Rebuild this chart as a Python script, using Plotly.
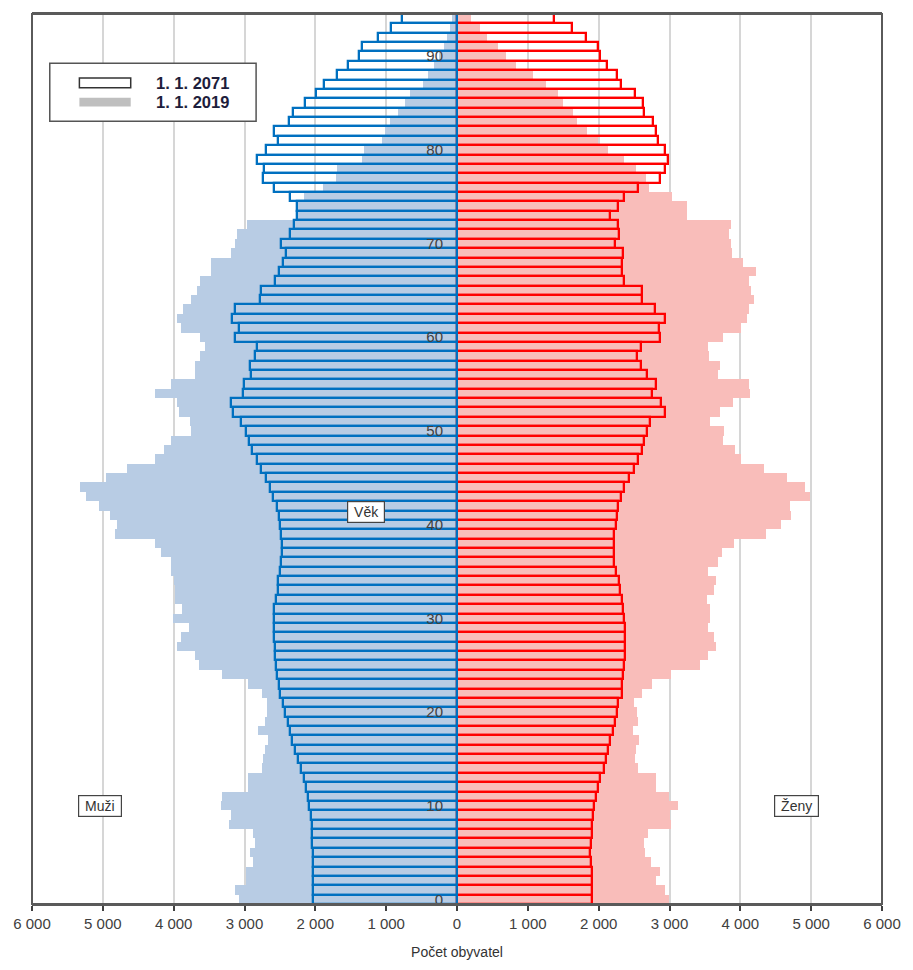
import plotly.graph_objects as go

ages = list(range(0, 95))

# Muži 1. 1. 2019 (ages 0..94)
men_2019 = [3073, 3129, 2981, 2981, 2874, 2920, 2856, 2874, 3222, 3190,
            3338, 3315, 2948, 2948, 2748, 2739, 2711, 2669, 2804, 2711,
            2688, 2688, 2748, 2948, 3315, 3640, 3692, 3957, 3896, 3784,
            4003, 3887, 3979, 3979, 3993, 4040, 4040, 4180, 4268, 4829,
            4801, 4895, 5058, 5234, 5327, 4955, 4653, 4268, 4142, 4040,
            3756, 3770, 3919, 3957, 4268, 4040, 3692, 3692, 3631, 3552,
            3631, 3896, 3957, 3873, 3756, 3668, 3631, 3469, 3469, 3190,
            3134, 3106, 2967, 2255, 2250, 2167, 1889, 1703, 1694, 1341,
            1309, 1052, 1016, 940, 830, 728, 658, 481, 403, 328,
            255, 184, 142, 95, 77]

# Muži 1. 1. 2071
men_2071 = [2038, 2038, 2038, 2038, 2038, 2038, 2042, 2052, 2052, 2066,
            2084, 2107, 2131, 2159, 2205, 2247, 2293, 2330, 2362, 2390,
            2423, 2460, 2493, 2516, 2539, 2549, 2563, 2563, 2585, 2585,
            2585, 2577, 2549, 2525, 2525, 2493, 2479, 2470, 2470, 2479,
            2493, 2516, 2539, 2595, 2646, 2702, 2772, 2828, 2888, 2940,
            2981, 3051, 3157, 3190, 3027, 3004, 2902, 2925, 2850, 2818,
            3134, 3073, 3176, 3134, 2781, 2772, 2563, 2516, 2460, 2410,
            2482, 2358, 2300, 2261, 2261, 2358, 2585, 2739, 2725, 2828,
            2702, 2525, 2585, 2376, 2316, 2153, 1991, 1875, 1694, 1540,
            1378, 1341, 1118, 937, 773]

# Ženy 1. 1. 2019
women_2019 = [2989, 2943, 2803, 2859, 2743, 2650, 2641, 2697, 3022, 3012,
              3119, 2989, 2803, 2803, 2557, 2515, 2524, 2571, 2478, 2557,
              2548, 2492, 2618, 2757, 3026, 3430, 3547, 3653, 3630, 3547,
              3570, 3570, 3523, 3630, 3653, 3547, 3686, 3746, 3909, 4360,
              4569, 4722, 4708, 4977, 4907, 4662, 4336, 4011, 3918, 3756,
              3770, 3570, 3709, 3895, 4137, 4118, 3686, 3709, 3556, 3537,
              3756, 4011, 4095, 4118, 4197, 4150, 4127, 4220, 4035, 3882,
              3863, 3840, 3872, 3245, 3245, 3036, 2711, 2673, 2534, 2353,
              2130, 1990, 1841, 1698, 1632, 1502, 1419, 1256, 1075, 829,
              685, 583, 420, 318, 197]

# Ženy 1. 1. 2071
women_2071 = [1907, 1907, 1907, 1907, 1890, 1883, 1897, 1907, 1907, 1920,
              1934, 1958, 1990, 2014, 2069, 2097, 2130, 2162, 2199, 2237,
              2260, 2279, 2325, 2329, 2348, 2353, 2376, 2376, 2376, 2371,
              2362, 2348, 2325, 2301, 2283, 2246, 2223, 2213, 2213, 2223,
              2246, 2260, 2279, 2316, 2362, 2422, 2501, 2562, 2608, 2640,
              2687, 2720, 2943, 2882, 2747, 2803, 2678, 2594, 2538, 2604,
              2859, 2850, 2943, 2794, 2618, 2618, 2353, 2325, 2325, 2339,
              2235, 2293, 2276, 2165, 2279, 2360, 2562, 2859, 2943, 2980,
              2943, 2840, 2803, 2766, 2641, 2627, 2516, 2315, 2255, 2116,
              2014, 1990, 1828, 1628, 1363]

x_ticks = [-6000, -5000, -4000, -3000, -2000, -1000, 0, 1000, 2000, 3000, 4000, 5000, 6000]
x_tick_text = ["6 000", "5 000", "4 000", "3 000", "2 000", "1 000", "0",
               "1 000", "2 000", "3 000", "4 000", "5 000", "6 000"]
y_ticks = [0, 10, 20, 30, 40, 50, 60, 70, 80, 90]

BLUE_FILL = "#B8CCE4"
PINK_FILL = "#F9BDBA"
BLUE_LINE = "#0070C0"
RED_LINE = "#FF0000"
FONT = "Arial, Liberation Sans, sans-serif"
TXT = "#333333"

fig = go.Figure()
fig.add_trace(go.Bar(y=ages, x=women_2019, orientation="h", width=1,
                     marker=dict(color=PINK_FILL, line=dict(width=0)),
                     name="Ženy 2019", showlegend=False))
fig.add_trace(go.Bar(y=ages, x=[-v for v in men_2019], orientation="h", width=1,
                     marker=dict(color=BLUE_FILL, line=dict(width=0)),
                     name="Muži 2019", showlegend=False))
fig.add_trace(go.Bar(y=ages, x=women_2071, orientation="h", width=1,
                     marker=dict(color="rgba(0,0,0,0)", line=dict(color=RED_LINE, width=2.3)),
                     name="Ženy 2071", showlegend=False))
fig.add_trace(go.Bar(y=ages, x=[-v for v in men_2071], orientation="h", width=1,
                     marker=dict(color="rgba(0,0,0,0)", line=dict(color=BLUE_LINE, width=2.3)),
                     name="Muži 2071", showlegend=False))

fig.update_layout(
    width=913, height=970,
    margin=dict(l=32, r=20, t=12, b=54),
    barmode="overlay", bargap=0,
    plot_bgcolor="white", paper_bgcolor="white",
    font=dict(family=FONT, color=TXT),
    xaxis=dict(range=[-6000, 6000], tickvals=x_ticks, ticktext=x_tick_text,
               showgrid=True, gridcolor="#D6D6D6", gridwidth=2, zeroline=False,
               ticks="outside", ticklen=5, tickwidth=1.5, tickcolor="#404040",
               showline=True, mirror=True, linecolor="#5A5A5A", linewidth=2,
               tickfont=dict(size=15, color="#404040", family=FONT),
               title=dict(text="Počet obyvatel", font=dict(size=14, color=TXT), standoff=16),
               fixedrange=True),
    yaxis=dict(range=[-0.5, 94.5], tickvals=y_ticks, anchor="free", position=0.5,
               showgrid=False, zeroline=False, showline=False, ticks="",
               ticklabelstandoff=14,
               tickfont=dict(size=15, color="#404040", family=FONT),
               fixedrange=True),
)

# plot frame sides
fig.add_shape(type="rect", xref="paper", yref="paper", x0=0, x1=1, y0=0, y1=1,
              line=dict(color="#5A5A5A", width=2), layer="above")

# legend box drawn with shapes (positions as fractions of the plot area)
W, H = 861.0, 904.0
def px(x):
    return (x - 32) / W
def py(y):
    return 1 - (y - 12) / H

fig.add_shape(type="rect", xref="paper", yref="paper",
              x0=px(50), x1=px(259), y0=py(121), y1=py(62),
              line=dict(color="#555555", width=1.5), fillcolor="white", layer="above")
fig.add_shape(type="rect", xref="paper", yref="paper",
              x0=px(80), x1=px(132), y0=py(87), y1=py(77),
              line=dict(color="#333333", width=1.5), fillcolor="white", layer="above")
fig.add_shape(type="rect", xref="paper", yref="paper",
              x0=px(80), x1=px(132), y0=py(106), y1=py(97),
              line=dict(width=0), fillcolor="#BFBFBF", layer="above")
legend_labels = ["1. 1. 2071", "1. 1. 2019"]
for lab, yy in zip(legend_labels, [82, 101]):
    fig.add_annotation(xref="paper", yref="paper", x=px(156), y=py(yy),
                       xanchor="left", yanchor="middle", showarrow=False,
                       text="<b>" + lab + "</b>",
                       font=dict(size=16.5, color="#1E1E3C", family=FONT))

box_labels = [("Věk", -1285, 41.3), ("Muži", -5040, 10), ("Ženy", 4790, 10)]
for txt, xv, yv in box_labels:
    fig.add_annotation(x=xv, y=yv, xref="x", yref="y", showarrow=False,
                       text="\u00a0" + txt + "\u00a0", bgcolor="white", bordercolor="#444444",
                       borderwidth=1.2, borderpad=2,
                       font=dict(size=14, color=TXT, family=FONT))

post = ("document.body.style.margin='0';"
        "document.documentElement.style.overflow='hidden';"
        "document.body.style.overflow='hidden';"
        "var d=document.getElementById('{plot_id}');"
        "d.style.position='fixed';d.style.top='0px';d.style.left='0px';"
        "var vw=window.innerWidth, vh=window.innerHeight;"
        "if(vw>0 && vh>0){d.style.width=vw+'px';d.style.height=vh+'px';"
        "Plotly.relayout(d,{width:vw,height:vh});}")

fig.write_html("out.html", config={"displayModeBar": False, "responsive": False},
               post_script=post)
